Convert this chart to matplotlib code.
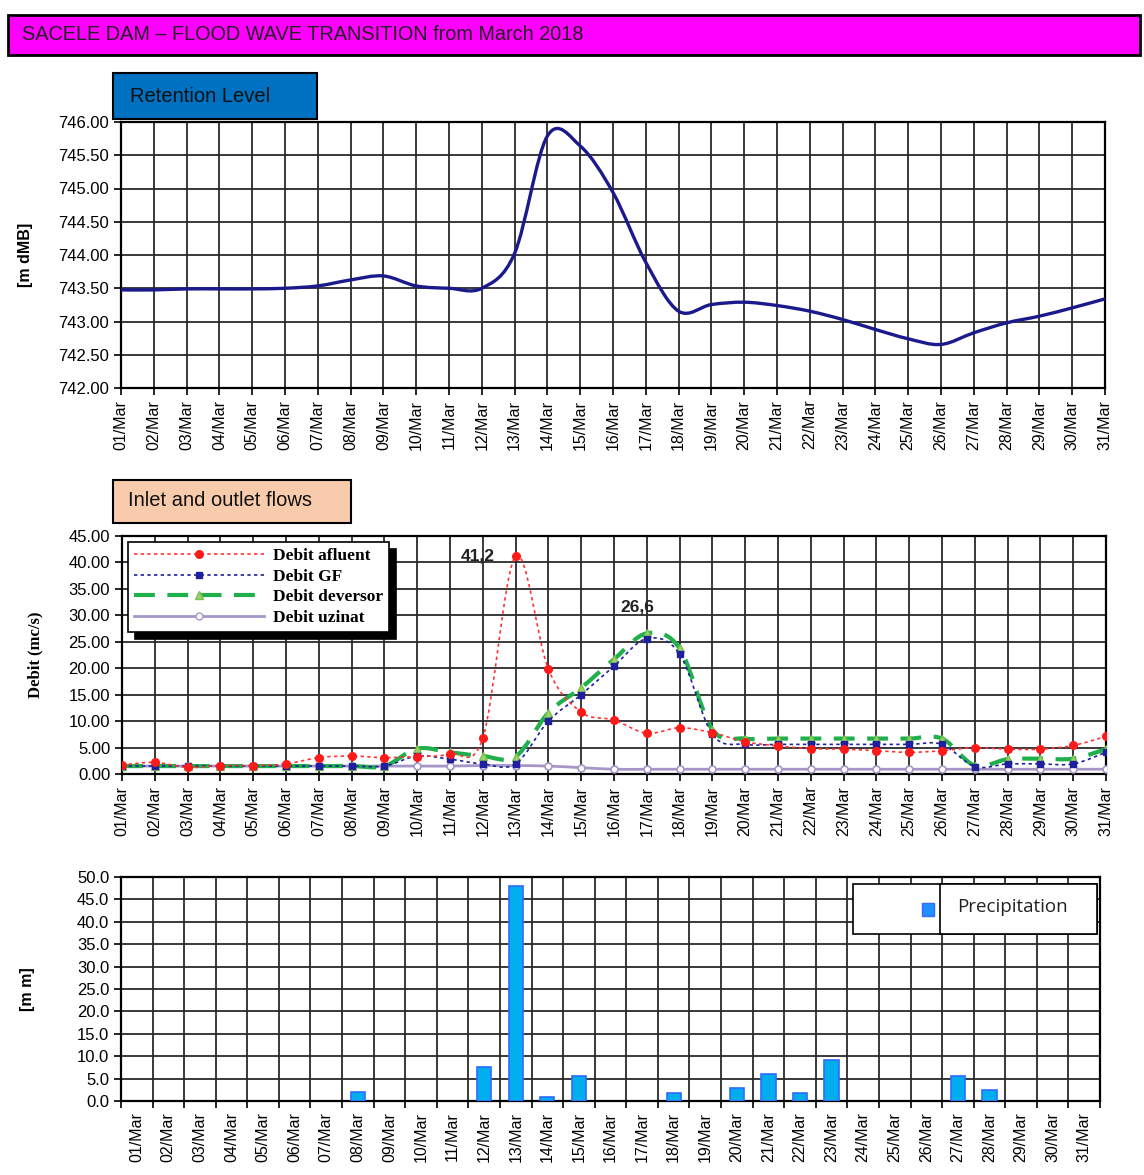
import numpy as np
import matplotlib
matplotlib.use("Agg")
import matplotlib.pyplot as plt
from matplotlib.path import Path
from matplotlib.patches import PathPatch, Rectangle
from matplotlib.lines import Line2D

days = list(range(1, 32))
day_labels = ["%02d/Mar" % d for d in days]

# retention level [mdMB]
level = [743.475, 743.475, 743.49, 743.49, 743.49, 743.50, 743.535, 743.625, 743.685, 743.535,
         743.50, 743.50, 744.025, 745.79, 745.64, 744.94, 743.89, 743.155, 743.255, 743.29,
         743.24, 743.155, 743.03, 742.88, 742.74, 742.655, 742.83, 742.98, 743.08, 743.205, 743.34]

# flows [mc/s]
q_afluent = [1.7, 2.2, 1.25, 1.6, 1.6, 1.9, 3.1, 3.4, 3.1, 3.3, 3.8, 6.75, 41.2, 19.8, 11.7, 10.2,
             7.7, 8.75, 7.8, 6.1, 5.3, 4.8, 4.7, 4.4, 4.1, 4.4, 5.0, 4.7, 4.7, 5.4, 7.1]
q_gf = [1.5, 1.5, 1.5, 1.5, 1.5, 1.5, 1.5, 1.5, 1.5, 3.4, 2.8, 1.9, 1.9, 10.0, 15.0, 20.4,
        25.6, 22.7, 7.5, 5.6, 5.6, 5.6, 5.6, 5.6, 5.6, 5.6, 1.4, 1.9, 1.9, 1.9, 4.1]
q_deversor = [1.5, 1.5, 1.5, 1.5, 1.5, 1.5, 1.5, 1.5, 1.5, 4.8, 4.1, 3.4, 3.3, 11.6, 16.3, 21.7,
              26.6, 23.75, 8.4, 6.7, 6.7, 6.7, 6.7, 6.7, 6.7, 6.7, 1.6, 2.8, 2.9, 2.9, 4.7]
q_uzinat = [1.5, 1.5, 1.5, 1.5, 1.5, 1.5, 1.5, 1.5, 1.5, 1.5, 1.5, 1.6, 1.6, 1.5, 1.2, 0.9,
            0.9, 0.9, 0.9, 0.9, 0.9, 0.9, 0.9, 0.9, 0.9, 0.9, 0.9, 0.9, 0.9, 0.9, 0.9]

# precipitation [mm]
precip = [0, 0, 0, 0, 0, 0, 0, 2.1, 0, 0, 0, 7.7, 48.0, 0.9, 5.6, 0, 0, 1.7, 0, 2.8,
          6.0, 1.7, 9.2, 0, 0, 0, 5.6, 2.5, 0, 0, 0]

W, H = 1144, 1175
fig = plt.figure(figsize=(W / 100, H / 100), dpi=100)
sans = ["Liberation Sans", "DejaVu Sans"]
narrow = ["Liberation Sans Narrow", "Liberation Sans", "DejaVu Sans"]
serif = ["Liberation Serif", "DejaVu Serif"]


def fx(px):
    return px / W


def fy(py):
    return 1 - py / H


def box(x0, y0, x1, y1, color, lw=1.5, ec="black"):
    fig.patches.append(Rectangle((fx(x0), fy(y1)), fx(x1 - x0), (y1 - y0) / H,
                                 transform=fig.transFigure, facecolor=color,
                                 edgecolor=ec, lw=lw))


def smooth(ax, x, y, **kw):
    # Excel-like smoothed line (Catmull-Rom as cubic Bezier)
    x = np.asarray(x, float)
    y = np.asarray(y, float)
    n = len(x)
    verts = [(x[0], y[0])]
    codes = [Path.MOVETO]
    for i in range(n - 1):
        i0 = max(i - 1, 0)
        i3 = min(i + 2, n - 1)
        c1 = (x[i] + (x[i + 1] - x[i0]) / 6, y[i] + (y[i + 1] - y[i0]) / 6)
        c2 = (x[i + 1] - (x[i3] - x[i]) / 6, y[i + 1] - (y[i3] - y[i]) / 6)
        verts += [c1, c2, (x[i + 1], y[i + 1])]
        codes += [Path.CURVE4] * 3
    ax.add_patch(PathPatch(Path(verts, codes), fill=False, **kw))


def style(ax):
    for s in ax.spines.values():
        s.set_linewidth(1.6)
        s.set_color("black")
    ax.tick_params(axis="both", direction="out", length=5, width=1.2, color="black")
    ax.set_axisbelow(True)


# title bar
box(8, 15, 1140, 55, "#FF00FF", lw=2)
fig.text(fx(22), fy(35), "SACELE DAM \u2013 FLOOD WAVE TRANSITION from March 2018",
         family=narrow, fontsize=14.3, va="center", ha="left", color="#222222")

# ---------------- retention level ----------------
ax1 = fig.add_axes([fx(121), fy(388), fx(1105 - 121), (388 - 122) / H])
style(ax1)
smooth(ax1, days, level, color="#1A1A8C", lw=2.4, zorder=3)
ax1.set_xlim(1, 31)
ax1.set_ylim(742, 746)
ax1.set_yticks(np.arange(742, 746.01, 0.5))
ax1.set_yticklabels(["%.2f" % v for v in np.arange(742, 746.01, 0.5)], family=sans, fontsize=12)
ax1.set_xticks(days)
ax1.set_xticklabels(day_labels, rotation=90, family=sans, fontsize=11.5)
ax1.grid(True, color="#2a2a2a", lw=1.3)
ax1.set_ylabel("[m dMB]", family=sans, fontsize=11.5, fontweight="bold", labelpad=18)

box(113, 73, 317, 119, "#0070C0")
fig.text(fx(130), fy(96), "Retention Level", family=narrow, fontsize=14.5,
         va="center", ha="left", color="#111111")

# ---------------- flows ----------------
ax2 = fig.add_axes([fx(122), fy(774), fx(1106 - 122), (774 - 536) / H])
style(ax2)
smooth(ax2, days, q_uzinat, color="#A596C8", lw=2, zorder=3)
ax2.plot(days, q_uzinat, ls="none", marker="o", ms=5, mfc="white", mec="#A596C8", mew=1.2, zorder=4)
smooth(ax2, days, q_deversor, color="#1FAF4B", lw=3, linestyle=(0, (5, 3)), zorder=4)
ax2.plot(days, q_deversor, ls="none", marker="^", ms=6, mfc="#9BD36A", mec="#7CC04F", zorder=5)
smooth(ax2, days, q_gf, color="#1F1F9F", lw=1.2, linestyle=(0, (2, 2)), zorder=6)
ax2.plot(days, q_gf, ls="none", marker="s", ms=4.5, color="#1F1F9F", zorder=7)
smooth(ax2, days, q_afluent, color="#FF3333", lw=1.2, linestyle=(0, (2, 2)), zorder=8)
ax2.plot(days, q_afluent, ls="none", marker="o", ms=5.5, color="#FF1A1A", zorder=9)

ax2.set_xlim(1, 31)
ax2.set_ylim(0, 45)
ax2.set_yticks(np.arange(0, 45.1, 5))
ax2.set_yticklabels(["%.2f" % v for v in np.arange(0, 45.1, 5)], family=sans, fontsize=12)
ax2.set_xticks(days)
ax2.set_xticklabels(day_labels, rotation=90, family=sans, fontsize=11.5)
ax2.grid(True, color="#2a2a2a", lw=1.3)
ax2.set_ylabel("Debit (mc/s)", family=serif, fontsize=12, fontweight="bold", labelpad=18)

i_max = int(np.argmax(q_afluent))
ax2.annotate("41,2", (days[i_max], q_afluent[i_max]), xytext=(-15, 0), textcoords="offset points",
             ha="right", va="center", family=sans, fontsize=12.5, fontweight="bold", color="#222222")
i_dev = int(np.argmax(q_deversor))
ax2.annotate("26,6", (days[i_dev], q_deversor[i_dev]), xytext=(-7, 19), textcoords="offset points",
             ha="center", va="center", family=sans, fontsize=12.5, fontweight="bold", color="#222222")

handles = [
    Line2D([], [], color="#FF3333", lw=1.2, ls=(0, (2, 2)), marker="o", ms=5.5, mfc="#FF1A1A", mec="#FF1A1A"),
    Line2D([], [], color="#1F1F9F", lw=1.2, ls=(0, (2, 2)), marker="s", ms=4.5),
    Line2D([], [], color="#1FAF4B", lw=3, ls=(0, (5, 3)), marker="^", ms=6, mfc="#9BD36A", mec="#7CC04F"),
    Line2D([], [], color="#A596C8", lw=2, marker="o", ms=5, mfc="white", mec="#A596C8"),
]
leg = ax2.legend(handles, ["Debit afluent", "Debit GF", "Debit deversor", "Debit uzinat"],
                 loc="upper left", bbox_to_anchor=(0.006, 0.975), borderaxespad=0,
                 prop={"family": serif, "weight": "bold", "size": 12.5}, handlelength=7.5,
                 handletextpad=0.5, fancybox=False, framealpha=1, edgecolor="black",
                 shadow={"color": "black", "alpha": 1, "ox": 5, "oy": -5},
                 labelspacing=0.25, borderpad=0.35)
leg.get_frame().set_linewidth(1.2)
leg.set_zorder(20)

box(113, 480, 351, 523, "#F8CBAD")
fig.text(fx(128), fy(501), "Inlet and outlet flows", family=narrow, fontsize=14.5,
         va="center", ha="left", color="#111111")

# ---------------- precipitation ----------------
ax3 = fig.add_axes([fx(121), fy(1101), fx(1100 - 121), (1101 - 877) / H])
style(ax3)
pos = np.arange(len(days))
ax3.bar(pos, precip, width=0.45, color="#00AEEF", edgecolor="#2F6BFF",
        linewidth=[1.2 if v > 0 else 0 for v in precip], zorder=3)
ax3.set_xlim(-0.5, len(days) - 0.5)
ax3.set_ylim(0, 50)
ax3.set_yticks(np.arange(0, 50.1, 5))
ax3.set_yticklabels(["%.1f" % v for v in np.arange(0, 50.1, 5)], family=sans, fontsize=12)
ax3.set_xticks(np.arange(-0.5, len(days), 1))
ax3.set_xticklabels([])
ax3.set_xticks(pos, minor=True)
ax3.set_xticklabels(day_labels, minor=True, rotation=90, family=sans, fontsize=11.5)
ax3.tick_params(axis="x", which="minor", length=0, pad=8)
ax3.grid(True, which="major", color="#2a2a2a", lw=1.3)
ax3.set_ylabel("[m m]", family=sans, fontsize=11.5, fontweight="bold", labelpad=30)

# precipitation legend box
box(853, 884, 1097, 934, "white", lw=1.2)
box(922, 903, 934, 916, "#1E90FF", lw=1, ec="#2F6BFF")
box(940, 884, 1097, 934, "white", lw=1.2)
fig.text(fx(957), fy(907), "Precipitation", family=["Open Sans", "DejaVu Sans"], fontsize=13.5,
         va="center", ha="left", color="#222222")

fig.savefig("out.png", dpi=100, facecolor="white")
